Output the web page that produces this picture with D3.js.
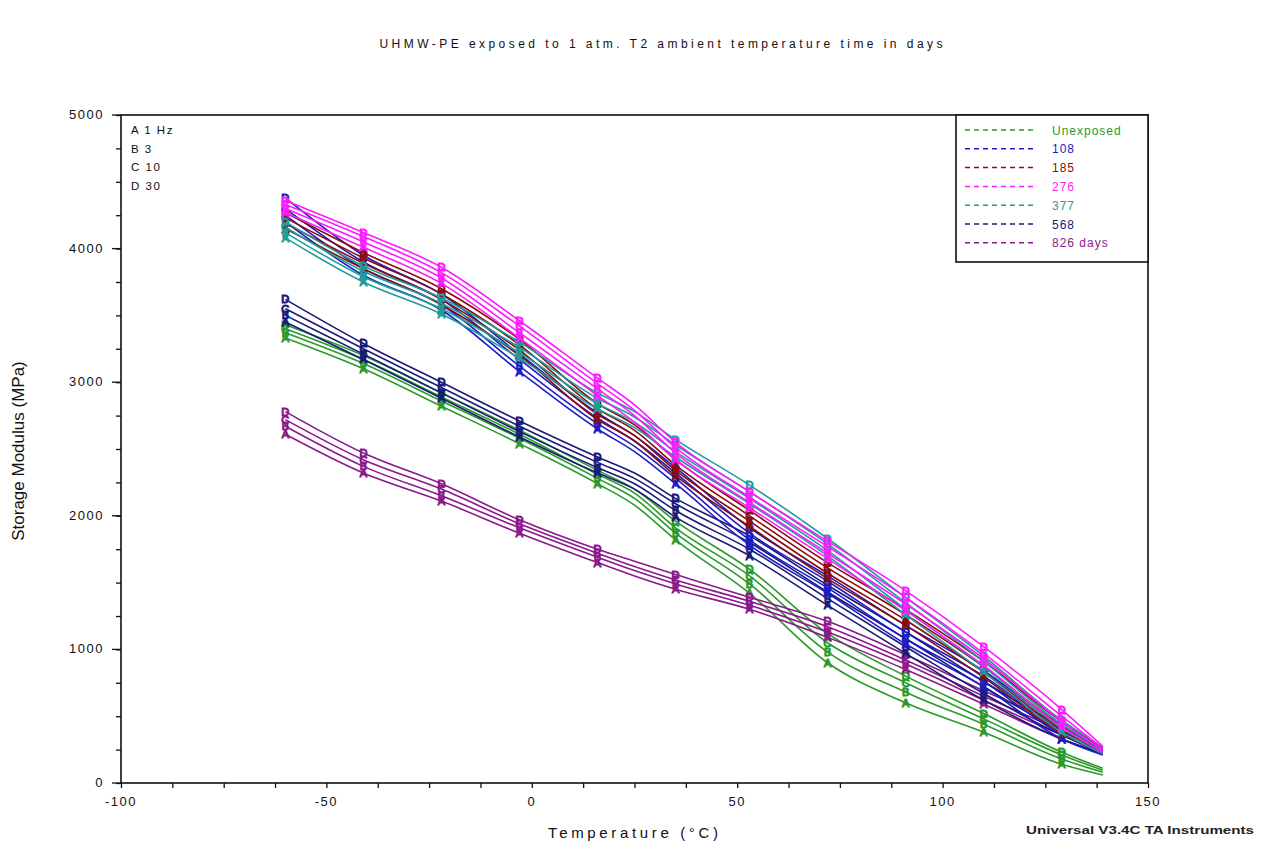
<!DOCTYPE html>
<html>
<head>
<meta charset="utf-8">
<script src="https://cdn.jsdelivr.net/npm/d3@7"></script>
<style>
  html, body { margin: 0; padding: 0; background: #ffffff; }
  svg { display: block; font-family: "Liberation Sans", Arial, sans-serif; }
</style>
</head>
<body>
<svg id="chart" width="1270" height="848"></svg>
<script>
// ---------------- DATA ----------------
const temps = [-60, -41, -22, -3, 16, 25, 35, 53, 72, 91, 110, 129, 139];
const markerTemps = [-60, -41, -22, -3, 16, 35, 53, 72, 91, 110, 129];
const freqLetters = ["A", "B", "C", "D"];
const freqLabels = ["A 1 Hz", "B 3", "C 10", "D 30"];
const seriesNames = ["Unexposed", "108", "185", "276", "377", "568", "826 days"];
const seriesColors = ["#2a9a2a", "#1c1cc8", "#8a0c0c", "#ff1aff", "#1f9c9c", "#1a1a78", "#8a1a8a"];

// rows: A (1 Hz), B (3 Hz), C (10 Hz), D (30 Hz); columns follow temps
const unexposed = [
  [3330, 3100, 2820, 2540, 2240, 2080, 1820, 1420, 900, 600, 380, 140, 60],
  [3370, 3140, 2860, 2580, 2280, 2130, 1870, 1490, 980, 680, 440, 180, 80],
  [3400, 3170, 2890, 2610, 2310, 2170, 1910, 1550, 1050, 750, 480, 210, 95],
  [3430, 3200, 2920, 2640, 2340, 2200, 1960, 1600, 1120, 800, 520, 230, 110]
];
const days108 = [
  [4200, 3800, 3540, 3080, 2650, 2480, 2240, 1780, 1420, 1040, 720, 330, 210],
  [4250, 3850, 3580, 3120, 2690, 2520, 2280, 1820, 1460, 1080, 760, 360, 225],
  [4300, 3900, 3620, 3170, 2730, 2560, 2320, 1870, 1510, 1130, 800, 390, 240],
  [4380, 3950, 3660, 3210, 2770, 2600, 2360, 1910, 1550, 1180, 840, 420, 255]
];
const days185 = [
  [4150, 3850, 3580, 3200, 2720, 2560, 2300, 1920, 1530, 1180, 790, 370, 220],
  [4190, 3890, 3620, 3240, 2760, 2600, 2340, 1960, 1570, 1220, 830, 400, 235],
  [4230, 3930, 3660, 3280, 2800, 2640, 2380, 2000, 1610, 1260, 870, 430, 250],
  [4270, 3970, 3700, 3320, 2840, 2680, 2420, 2040, 1650, 1300, 910, 460, 265]
];
const days276 = [
  [4270, 4010, 3740, 3330, 2900, 2700, 2420, 2060, 1680, 1290, 880, 420, 230],
  [4300, 4050, 3780, 3370, 2950, 2750, 2470, 2100, 1720, 1340, 930, 460, 245],
  [4330, 4090, 3820, 3420, 2990, 2790, 2510, 2140, 1770, 1390, 970, 500, 260],
  [4360, 4120, 3860, 3460, 3030, 2830, 2550, 2180, 1810, 1440, 1020, 550, 275]
];
const days377 = [
  [4080, 3750, 3510, 3180, 2800, 2660, 2440, 2090, 1700, 1260, 830, 380, 220],
  [4120, 3790, 3550, 3220, 2840, 2700, 2480, 2130, 1740, 1300, 870, 410, 235],
  [4160, 3830, 3590, 3260, 2880, 2740, 2530, 2180, 1790, 1350, 910, 440, 250],
  [4200, 3870, 3630, 3300, 2920, 2780, 2570, 2230, 1830, 1390, 950, 470, 265]
];
const days568 = [
  [3450, 3170, 2880, 2590, 2320, 2200, 1990, 1700, 1330, 970, 620, 330, 220],
  [3500, 3210, 2920, 2630, 2360, 2240, 2040, 1750, 1380, 1020, 670, 360, 235],
  [3550, 3250, 2960, 2670, 2400, 2280, 2090, 1800, 1430, 1080, 720, 390, 250],
  [3620, 3290, 3000, 2710, 2440, 2320, 2130, 1850, 1480, 1130, 760, 420, 265]
];
const days826 = [
  [2610, 2320, 2110, 1870, 1650, 1550, 1450, 1300, 1090, 850, 590, 330, 220],
  [2670, 2370, 2150, 1910, 1690, 1590, 1490, 1330, 1130, 890, 620, 360, 235],
  [2720, 2420, 2200, 1940, 1720, 1620, 1520, 1360, 1170, 920, 650, 390, 250],
  [2780, 2470, 2240, 1970, 1750, 1660, 1560, 1390, 1210, 960, 690, 430, 265]
];
const xTickValues = [-100, -50, 0, 50, 100, 150];
const yTickValues = [0, 1000, 2000, 3000, 4000, 5000];

const allSeries = [unexposed, days108, days185, days276, days377, days568, days826];
// draw order (later = on top)
const drawOrder = [0, 6, 5, 1, 2, 4, 3];

// ---------------- CHART ----------------
const svg = d3.select("#chart");
const pLeft = 121, pRight = 1148, pTop = 115, pBottom = 783;
const x = d3.scaleLinear().domain([-100, 150]).range([pLeft, pRight]);
const y = d3.scaleLinear().domain([0, 5000]).range([pBottom, pTop]);

// title
svg.append("text").attr("x", 661).attr("y", 48).attr("text-anchor", "middle")
  .attr("font-size", 12).attr("textLength", 563).attr("lengthAdjust", "spacing")
  .attr("fill", "#111").text("UHMW-PE exposed to 1 atm. T2 ambient temperature time in days");

// frame
svg.append("rect").attr("x", pLeft).attr("y", pTop).attr("width", pRight - pLeft).attr("height", pBottom - pTop)
  .attr("fill", "none").attr("stroke", "#111").attr("stroke-width", 1.6);

// axes
const xAxis = d3.axisBottom(x).tickValues(d3.range(-100, 150.1, 12.5)).tickSize(5).tickFormat("");
const gx = svg.append("g").attr("transform", `translate(0,${pBottom})`).call(xAxis);
gx.select(".domain").remove();
gx.selectAll("line").attr("stroke", "#111").attr("stroke-width", 1.3);
xTickValues.forEach(v => {
  svg.append("text").attr("x", x(v)).attr("y", 806).attr("text-anchor", "middle")
    .attr("font-size", 13).attr("letter-spacing", 1.5).attr("fill", "#111").text(v);
});

const yAxis = d3.axisLeft(y).tickValues(d3.range(0, 5000.1, 250)).tickSize(5).tickFormat("");
const gy = svg.append("g").attr("transform", `translate(${pLeft},0)`).call(yAxis);
gy.select(".domain").remove();
gy.selectAll("line").attr("stroke", "#111").attr("stroke-width", 1.3);
yTickValues.forEach(v => {
  svg.append("line").attr("x1", pLeft - 9).attr("x2", pLeft).attr("y1", y(v)).attr("y2", y(v))
    .attr("stroke", "#111").attr("stroke-width", 1.3);
  svg.append("text").attr("x", 104).attr("y", y(v) + 4).attr("text-anchor", "end")
    .attr("font-size", 13).attr("letter-spacing", 1.5).attr("fill", "#111").text(v);
});

// axis titles
svg.append("text").attr("transform", "translate(24,451) rotate(-90)").attr("text-anchor", "middle")
  .attr("font-size", 17).attr("fill", "#111").text("Storage Modulus (MPa)");
svg.append("text").attr("x", 633).attr("y", 838).attr("text-anchor", "middle")
  .attr("font-size", 15).attr("textLength", 170).attr("lengthAdjust", "spacing")
  .attr("fill", "#111").text("Temperature (°C)");
svg.append("text").attr("x", 1140).attr("y", 834).attr("text-anchor", "middle")
  .attr("font-size", 11).attr("textLength", 228).attr("lengthAdjust", "spacingAndGlyphs")
  .attr("font-weight", "bold").attr("fill", "#222").text("Universal V3.4C TA Instruments");

// frequency key
freqLabels.forEach((t, i) => {
  svg.append("text").attr("x", 131).attr("y", 134 + i * 18.5)
    .attr("font-size", 11.5).attr("letter-spacing", 1.5).attr("fill", "#111").text(t);
});

// lines
const line = d3.line().x(d => x(d[0])).y(d => y(d[1])).curve(d3.curveMonotoneX);
const plot = svg.append("g");
drawOrder.forEach(si => {
  const rows = allSeries[si];
  const col = seriesColors[si];
  rows.forEach((vals, fi) => {
    const pts = temps.map((t, k) => [t, vals[k]]);
    plot.append("path").datum(pts).attr("d", line)
      .attr("fill", "none").attr("stroke", col).attr("stroke-width", 1.6);
    const mk = pts.filter(p => markerTemps.includes(p[0]));
    plot.selectAll(null).data(mk).enter().append("text")
      .attr("x", d => x(d[0])).attr("y", d => y(d[1]) + 4)
      .attr("text-anchor", "middle").attr("font-size", 11)
      .attr("fill", "none").attr("stroke", col).attr("stroke-width", 1.1)
      .text(freqLetters[fi]);
  });
});

// legend
const lg = svg.append("g");
lg.append("rect").attr("x", 956).attr("y", pTop).attr("width", pRight - 956).attr("height", 147)
  .attr("fill", "#fff").attr("stroke", "#111").attr("stroke-width", 1.6);
seriesNames.forEach((n, i) => {
  const yy = 130 + i * 18.8;
  lg.append("line").attr("x1", 965).attr("x2", 1033).attr("y1", yy).attr("y2", yy)
    .attr("stroke", seriesColors[i]).attr("stroke-width", 1.5).attr("stroke-dasharray", "5,4");
  lg.append("text").attr("x", 1052).attr("y", yy + 4.5).attr("font-size", 12).attr("letter-spacing", 1)
    .attr("fill", seriesColors[i]).text(n);
});
</script>
</body>
</html>
